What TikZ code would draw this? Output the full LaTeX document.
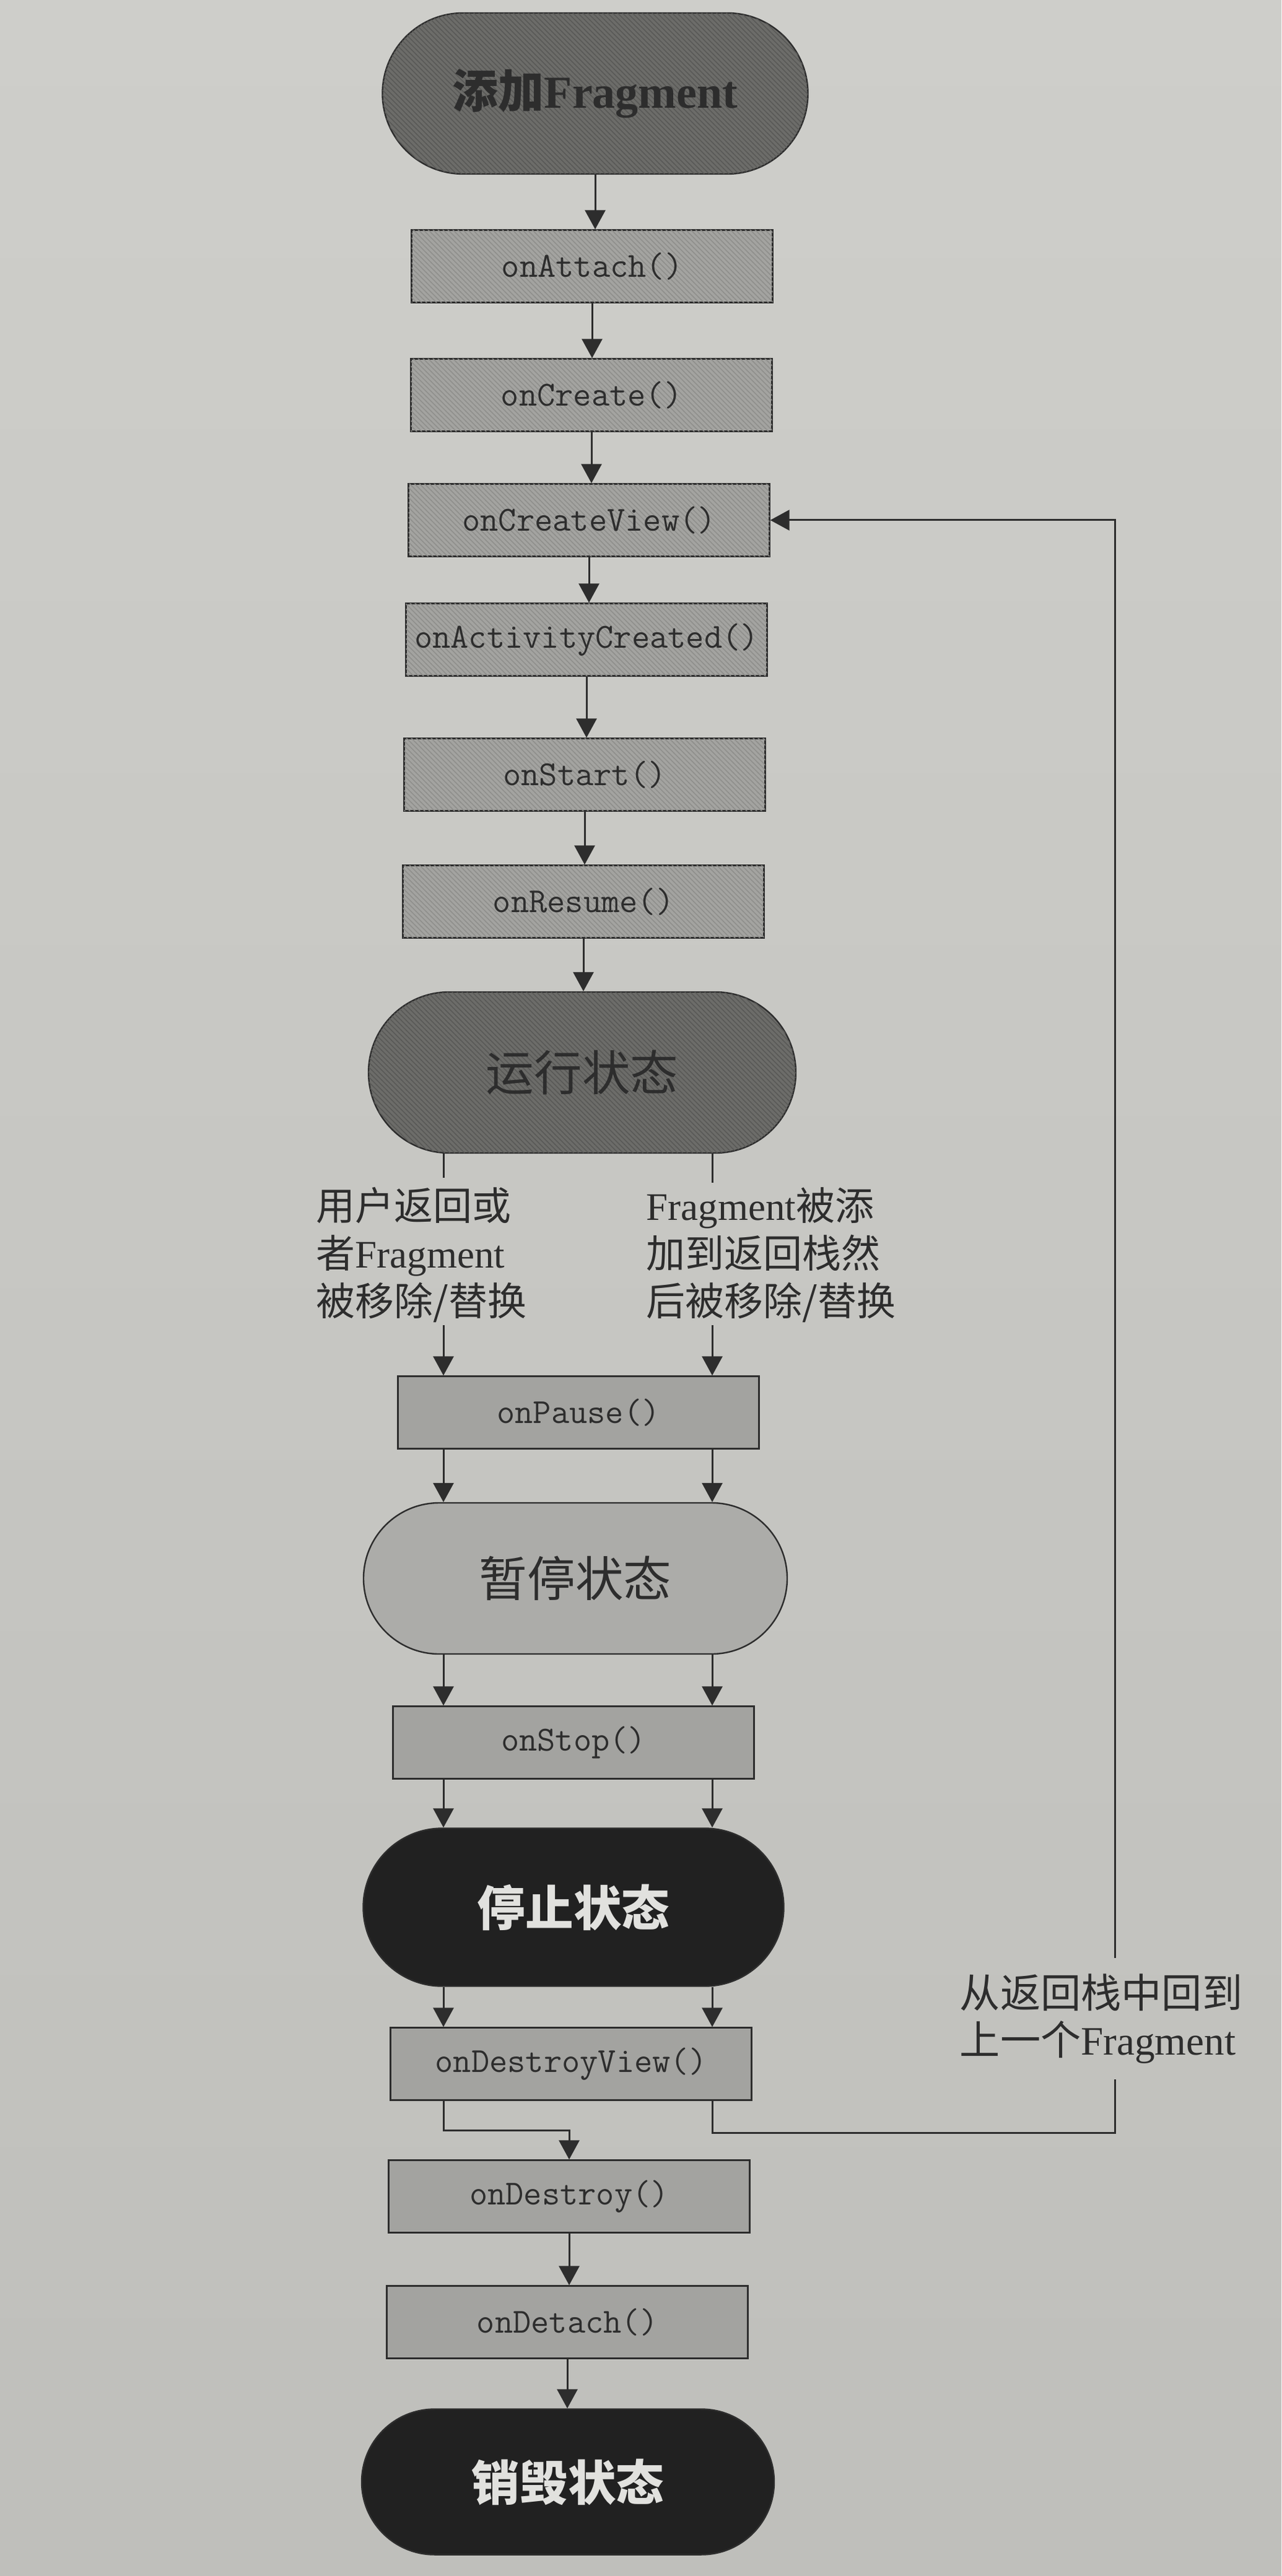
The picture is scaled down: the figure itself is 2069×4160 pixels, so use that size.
\documentclass[tikz,border=0pt]{standalone}
\usepackage{fontspec}
\setmainfont{Liberation Serif}
\newfontfamily\cjk{Noto Sans CJK SC}
\usetikzlibrary{arrows.meta,shapes.misc,patterns}
\pgfdeclarepatternformonly{finehatch}{\pgfqpoint{-1pt}{-1pt}}{\pgfqpoint{3pt}{3pt}}{\pgfqpoint{2pt}{2pt}}{%
  \pgfsetlinewidth{0.35pt}%
  \pgfpathmoveto{\pgfqpoint{0pt}{2pt}}%
  \pgfpathlineto{\pgfqpoint{2.1pt}{-0.1pt}}%
  \pgfusepath{stroke}}
\definecolor{papertop}{RGB}{206,206,202}
\definecolor{paperbot}{RGB}{191,191,187}
\definecolor{boxfill}{RGB}{163,163,160}
\definecolor{hatch}{RGB}{142,142,139}
\definecolor{darkpill}{RGB}{108,108,105}
\definecolor{darkhatch}{RGB}{88,88,86}
\definecolor{midpill}{RGB}{172,172,169}
\definecolor{blackpill}{RGB}{33,33,33}
\definecolor{ink}{RGB}{45,45,45}
\definecolor{lighttext}{RGB}{225,225,222}
\newcommand\bxfont{\ttfamily\fontsize{14.2}{16}\selectfont}
\newcommand\pillfont{\fontsize{19.4}{22}\selectfont}
\newcommand\lblfont{\fontsize{15.75}{19.25}\selectfont}
\newcommand\backfont{\fontsize{16.3}{19}\selectfont}
\tikzset{
  fn/.style={draw=ink, line width=0.6pt, fill=boxfill, minimum width=145.75pt,
    minimum height=29.25pt, inner sep=0pt, text=ink, font=\bxfont},
  hatched/.style={postaction={pattern=finehatch, pattern color=hatch}},
  darkhatched/.style={postaction={pattern=finehatch, pattern color=darkhatch}},
  pill/.style={rounded rectangle, draw=ink, line width=0.6pt, inner sep=0pt, font=\pillfont},
  ln/.style={draw=ink, line width=0.75pt},
  arr/.style={ln, -{Triangle[length=7.75pt,width=8.25pt]}},
  lbl/.style={align=left, inner sep=0pt, text=ink, font=\lblfont, anchor=west}
}
\begin{document}
\begin{tikzpicture}[x=0.25pt,y=-0.25pt]
\useasboundingbox (0,0) rectangle (2069,4160);
\shade[top color=papertop, bottom color=paperbot] (0,0) rectangle (2069,4160);

% nodes
\node[pill, fill=darkpill, darkhatched, minimum width=171.75pt, minimum height=65pt, text=ink,
  font=\fontsize{18.5}{22}\selectfont]
  (add) at (961,151) {{\cjk\bfseries 添加}\bfseries Fragment};
\node[fn, hatched] (att) at (956,430) {onAttach()};
\node[fn, hatched] (cre) at (955,638) {onCreate()};
\node[fn, hatched] (cv)  at (951,840) {onCreateView()};
\node[fn, hatched] (ac)  at (947,1033) {onActivityCreated()};
\node[fn, hatched] (st)  at (944,1251) {onStart()};
\node[fn, hatched] (res) at (942,1456) {onResume()};
\node[pill, fill=darkpill, darkhatched, minimum width=172.5pt, minimum height=65pt, text=ink]
  (run) at (940,1732) {\cjk 运行状态};
\node[lbl] (lleft) at (510,2027) {{\cjk 用户返回或}\\{\cjk 者}Fragment\\{\cjk 被移除/替换}};
\node[lbl] (lright) at (1043,2027) {Fragment{\cjk 被添}\\{\cjk 加到返回栈然}\\{\cjk 后被移除/替换}};
\node[fn] (pause) at (934,2281) {onPause()};
\node[pill, fill=midpill, minimum width=171pt, minimum height=61pt, text=ink]
  (ps) at (929,2549) {\cjk 暂停状态};
\node[fn] (stop) at (926,2814) {onStop()};
\node[pill, fill=blackpill, minimum width=169.75pt, minimum height=63.75pt, text=lighttext]
  (ss) at (926,3080) {\cjk\bfseries 停止状态};
\node[fn] (dv)  at (922,3333) {onDestroyView()};
\node[fn] (des) at (919,3547) {onDestroy()};
\node[fn] (det) at (916,3750) {onDetach()};
\node[pill, fill=blackpill, minimum width=166.5pt, minimum height=58.75pt, text=lighttext]
  (ds) at (917,4008) {\cjk\bfseries 销毁状态};
\node[align=left, inner sep=0pt, minimum height=48.75pt, text=ink, font=\backfont]
  (back) at (1778,3260) {{\cjk 从返回栈中回到}\\{\cjk 上一个}Fragment};

% lanes
\coordinate (La) at (716,1902);
\coordinate (Lb) at (716,2140);
\coordinate (Ra) at (1150,1910);
\coordinate (Rb) at (1150,2140);
\coordinate (J) at (716,3440);
\coordinate (K) at (1150,3444);
\coordinate (rx) at (1800,3260);

% single chain
\draw[arr] (add.south) -- (add.south |- att.north);
\draw[arr] (att.south) -- (att.south |- cre.north);
\draw[arr] (cre.south) -- (cre.south |- cv.north);
\draw[arr] (cv.south) -- (cv.south |- ac.north);
\draw[arr] (ac.south) -- (ac.south |- st.north);
\draw[arr] (st.south) -- (st.south |- res.north);
\draw[arr] (res.south) -- (res.south |- run.north);

% two lanes
\draw[ln] (run.south -| La) -- (La);
\draw[ln] (run.south -| Ra) -- (Ra);
\draw[arr] (Lb) -- (Lb |- pause.north);
\draw[arr] (Rb) -- (Rb |- pause.north);
\foreach \a/\b in {pause/ps, ps/stop, stop/ss, ss/dv} {
  \draw[arr] (\a.south -| La) -- (\b.north -| La);
  \draw[arr] (\a.south -| Ra) -- (\b.north -| Ra);
}

% from onDestroyView
\draw[arr] (dv.south -| J) -- (J) -- (J -| des.north) -- (des.north);
\draw[ln] (dv.south -| K) -- (K) -- (K -| rx) -- (rx |- back.south);
\draw[arr] (rx |- back.north) -- (rx |- cv.east) -- (cv.east);

\draw[arr] (des.south) -- (des.south |- det.north);
\draw[arr] (det.south) -- (det.south |- ds.north);
\end{tikzpicture}
\end{document}
